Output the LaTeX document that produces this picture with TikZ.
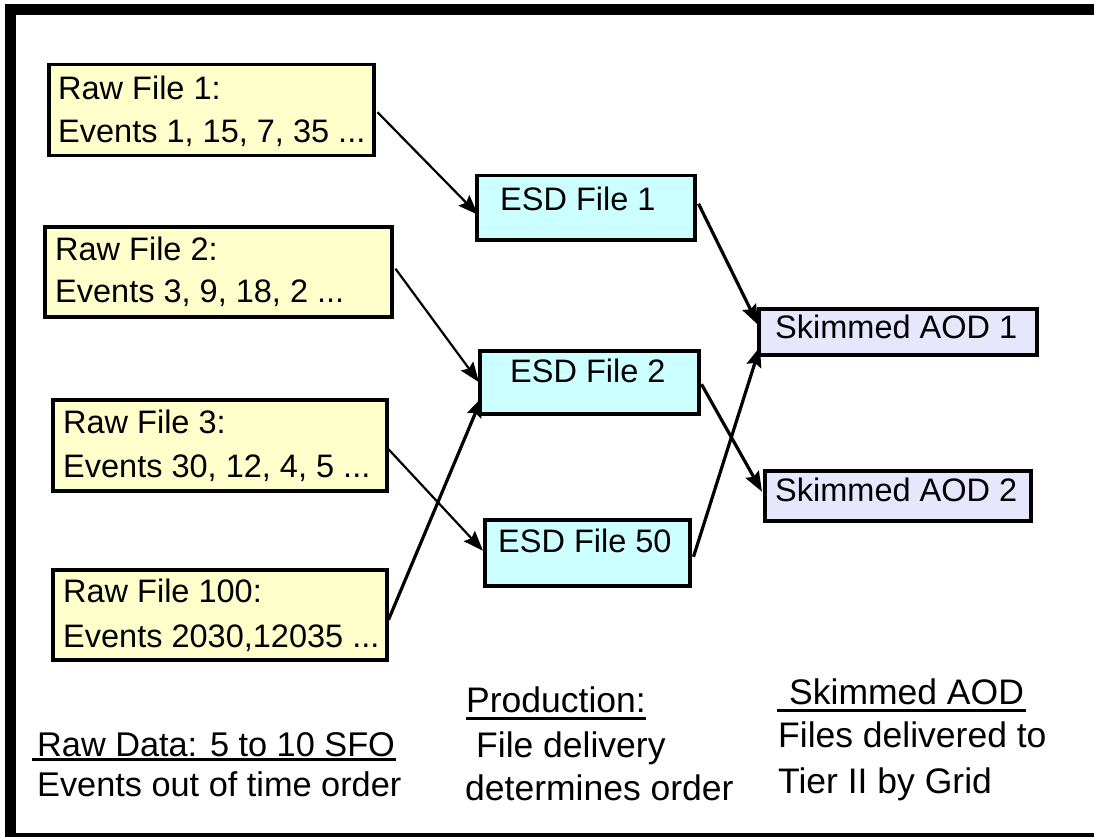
\documentclass[tikz,border=0pt]{standalone}
\usepackage{fontspec}
\setmainfont{Liberation Sans}
\usetikzlibrary{arrows.meta,calc}
\definecolor{rawfill}{RGB}{255,255,204}
\definecolor{esdfill}{RGB}{204,255,255}
\definecolor{aodfill}{RGB}{230,230,252}

\begin{document}
\begin{tikzpicture}[x=1pt,y=-1pt,
  box/.style={draw=black,line width=3.5pt,inner sep=0pt,anchor=north west},
  rawbox/.style={box,fill=rawfill},
  esdbox/.style={box,fill=esdfill},
  aodbox/.style={box,fill=aodfill},
  rawtext/.style={anchor=base west,inner sep=0pt,font=\fontsize{32.5}{40}\selectfont},
  boxtext/.style={anchor=base west,inner sep=0pt,font=\fontsize{32.5}{40}\selectfont},
  note/.style={anchor=base west,inner sep=0pt,font=\fontsize{34.3}{42}\selectfont},
  bignote/.style={anchor=base west,inner sep=0pt,font=\fontsize{35.5}{42}\selectfont},
  uline/.style={line width=3pt},
  conn/.style={-{Stealth[length=20pt,width=15pt,inset=3pt]},line width=2.2pt},
  connthick/.style={conn,line width=3.2pt}
]
\useasboundingbox (0,0) rectangle (1094,837);
\clip (0,0) rectangle (1094,837);
\fill[white] (0,0) rectangle (1094,837);

% outer frame
\draw[line width=11pt] (10,9.5) rectangle (1110,838.5);

% raw data files
\node[rawbox,minimum width=325pt,minimum height=91pt] (raw1) at (47,63) {};
\node[rawtext] (raw1a) at (58,100) {Raw File 1:};
\node[rawtext] (raw1b) at (58,143) {Events 1, 15, 7, 35 ...};

\node[rawbox,minimum width=347pt,minimum height=90pt] (raw2) at (43,225) {};
\node[rawtext] (raw2a) at (55,260) {Raw File 2:};
\node[rawtext] (raw2b) at (55,302) {Events 3, 9, 18, 2 ...};

\node[rawbox,minimum width=334pt,minimum height=91pt] (raw3) at (51,398) {};
\node[rawtext] (raw3a) at (63,433) {Raw File 3:};
\node[rawtext] (raw3b) at (63,477) {Events 30, 12, 4, 5 ...};

\node[rawbox,minimum width=334pt,minimum height=90pt] (raw100) at (51,568) {};
\node[rawtext] (raw100a) at (63,602) {Raw File 100:};
\node[rawtext] (raw100b) at (63,647) {Events 2030,12035 ...};

% ESD files
\node[esdbox,minimum width=218pt,minimum height=64pt] (esd1) at (475,174) {};
\node[boxtext] (esd1t) at (500,210) {ESD File 1};

\node[esdbox,minimum width=219pt,minimum height=63pt] (esd2) at (478,349) {};
\node[boxtext] (esd2t) at (510,382) {ESD File 2};

\node[esdbox,minimum width=205pt,minimum height=66pt] (esd50) at (483,518) {};
\node[boxtext] (esd50t) at (498,552) {ESD File 50};

% skimmed AOD files
\node[aodbox,minimum width=278pt,minimum height=46pt] (aod1) at (757,307) {};
\node[boxtext] (aod1t) at (775,338) {Skimmed AOD 1};

\node[aodbox,minimum width=266pt,minimum height=50pt] (aod2) at (763,469) {};
\node[boxtext] (aod2t) at (775,501) {Skimmed AOD 2};

% data flow
\draw[conn] ($(raw1.east)+(2,2)$) -- ($(esd1.west)+(3,7)$);
\draw[conn] ($(raw2.east)+(2,-3)$) -- ($(esd2.west)+(1,0)$);
\draw[conn] ($(raw3.east)+(0,4)$) -- ($(esd50.west)+(0,-2)$);
\draw[connthick] ($(raw100.east)+(0,5)$) -- ($(esd2.west)+(4,15)$);
\draw[connthick] ($(esd1.east)+(2,-4)$) -- ($(aod1.west)+(1,-7)$);
\draw[connthick] ($(esd2.east)+(1,2)$) -- ($(aod2.west)+(-1,-4)$);
\draw[connthick] ($(esd50.east)+(2,4)$) -- ($(aod1.west)+(3,15)$);

% captions
\node[note] (rawdata) at (37,756) {Raw Data: 5 to 10 SFO};
\node[note] (rawdata2) at (37,796) {Events out of time order};
\draw[uline] ($(rawdata.base west)+(-5,3)$) -- ($(rawdata.base east)+(1,3)$);

\node[bignote] (prod) at (466,712) {Production:};
\node[bignote] (prod2) at (476,757) {File delivery};
\node[bignote] (prod3) at (465,800) {determines order};
\draw[uline] ($(prod.base west)+(0,6)$) -- ($(prod.base east)+(0,6)$);

\node[bignote] (skim) at (789,704) {Skimmed AOD};
\node[bignote] (skim2) at (778,747) {Files delivered to};
\node[bignote] (skim3) at (778,793) {Tier II by Grid};
\draw[uline] ($(skim.base west)+(-12,6)$) -- ($(skim.base east)+(2,6)$);
\end{tikzpicture}
\end{document}
